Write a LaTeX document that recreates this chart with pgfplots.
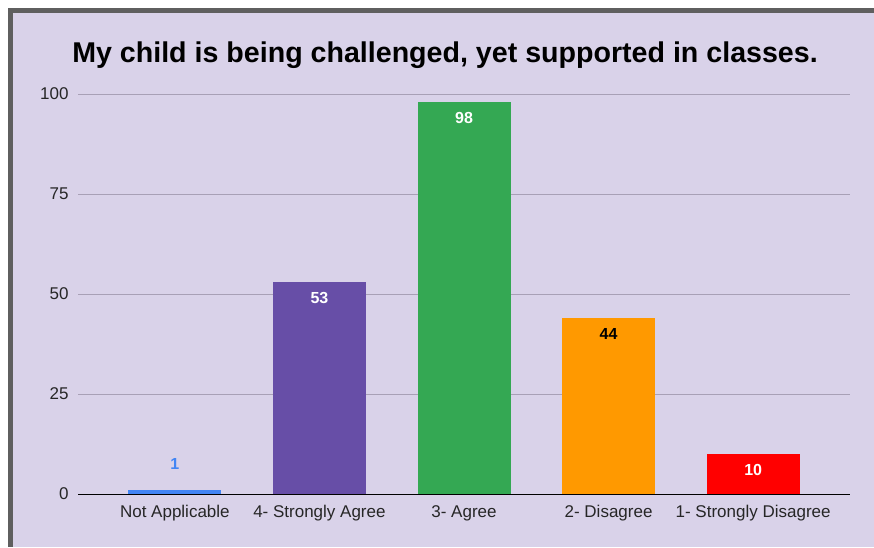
\documentclass[border=0pt]{standalone}
\usepackage{pgfplots}
\pgfplotsset{compat=1.18}
\usepackage{fontspec}
\setmainfont{Liberation Sans}
\definecolor{bg}{HTML}{D9D2E9}
\definecolor{frame}{HTML}{5F5F5F}
\definecolor{gridc}{HTML}{A8A0B6}
\definecolor{cblue}{HTML}{4285F4}
\definecolor{cpurple}{HTML}{674EA7}
\definecolor{cgreen}{HTML}{34A853}
\definecolor{corange}{HTML}{FF9900}
\definecolor{cred}{HTML}{FF0000}
\begin{document}
\begin{tikzpicture}[x=1pt,y=1pt]
\useasboundingbox (0,0) rectangle (874,547);
\fill[white] (0,0) rectangle (874,547);
\fill[frame] (8,0) rectangle (874,539);
\fill[bg] (13,0) rectangle (874,534);
\node[anchor=base, font=\bfseries\fontsize{28.6}{32}\selectfont] at (445,484) {My child is being challenged, yet supported in classes.};
\begin{axis}[
  at={(78pt,53pt)}, anchor=south west,
  scale only axis, width=772pt, height=400pt,
  ymin=0, ymax=100, xmin=-0.67, xmax=4.67,
  ytick={0,25,50,75,100},
  xtick={0,1,2,3,4},
  xticklabels={Not Applicable, 4- Strongly Agree, 3- Agree, 2- Disagree, 1- Strongly Disagree},
  ymajorgrids, grid style={gridc, line width=0.8pt},
  axis line style={draw=none},
  major tick length=0pt,
  tick label style={font=\fontsize{17}{20}\selectfont, text=black!85},
  /pgf/number format/assume math mode=true,
  yticklabel style={anchor=east, xshift=-6pt},
  xticklabel style={anchor=base, yshift=-23pt},
  ybar, bar width=93pt,
  clip=false,
  nodes near coords,
  every node near coord/.append style={font=\bfseries\fontsize{16}{19}\selectfont, anchor=center},
]
\addplot[fill=cblue, draw=none, bar shift=0pt, every node near coord/.append style={text=cblue, yshift=26pt}] coordinates {(0,1)};
\addplot[fill=cpurple, draw=none, bar shift=0pt, every node near coord/.append style={text=white, yshift=-16pt}] coordinates {(1,53)};
\addplot[fill=cgreen, draw=none, bar shift=0pt, every node near coord/.append style={text=white, yshift=-16pt}] coordinates {(2,98)};
\addplot[fill=corange, draw=none, bar shift=0pt, every node near coord/.append style={text=black, yshift=-16pt}] coordinates {(3,44)};
\addplot[fill=cred, draw=none, bar shift=0pt, every node near coord/.append style={text=white, yshift=-16pt}] coordinates {(4,10)};
\draw[black, line width=1pt] (axis cs:-0.67,0) -- (axis cs:4.67,0);
\end{axis}
\end{tikzpicture}
\end{document}
